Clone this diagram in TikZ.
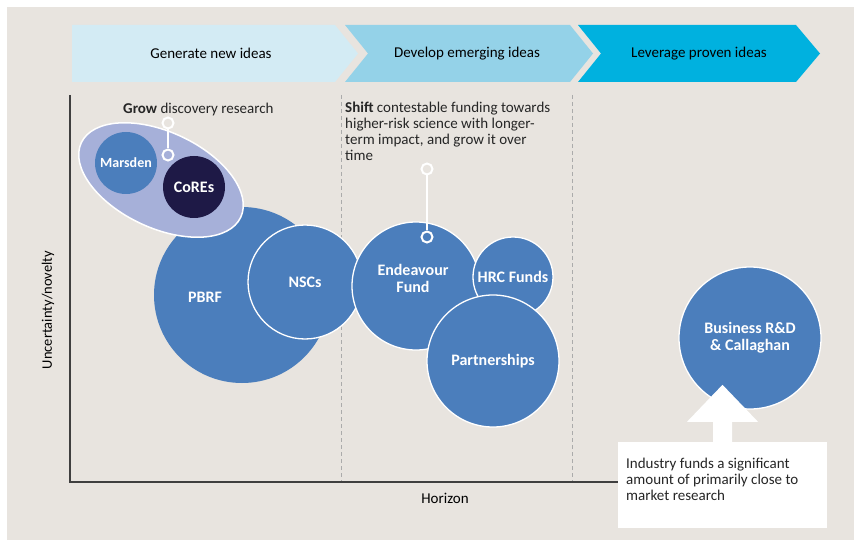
\documentclass[tikz,border=0pt]{standalone}
\usepackage{fontspec}
\setmainfont{Carlito}
\usepackage{xcolor}
\usepackage{tikz}
\usetikzlibrary{arrows.meta,positioning,shapes.geometric,calc}
\definecolor{panel}{HTML}{E8E4DF}
\definecolor{stageone}{HTML}{D3EBF4}
\definecolor{stagetwo}{HTML}{94D2E8}
\definecolor{stagethree}{HTML}{00B1DF}
\definecolor{fundblue}{HTML}{4B7EBC}
\definecolor{lavender}{HTML}{A6B0D9}
\definecolor{navy}{HTML}{1E1946}
\definecolor{axisgray}{HTML}{3F3F3F}
\definecolor{dashgray}{HTML}{ABABAB}
\definecolor{textgray}{HTML}{262626}
\tikzset{
  fund/.style={circle, draw=white, line width=1.3pt, fill=fundblue, text=white, align=center, inner sep=0pt, font=\fontsize{16}{17}\selectfont\bfseries},
  plainfund/.style={fund, draw=none},
  fundlabel/.style={text=white, align=center, inner sep=0pt, font=\fontsize{16}{17}\selectfont\bfseries},
  pinring/.style={circle, draw=white, line width=2pt, minimum size=11pt, inner sep=0pt},
  pinline/.style={draw=white, line width=2pt},
  stage/.style={text=black, font=\fontsize{15}{17}\selectfont},
  note/.style={text=textgray, align=left, anchor=north west, inner sep=0pt, font=\fontsize{15}{16}\selectfont},
  divider/.style={draw=dashgray, dash pattern=on 4pt off 3pt, line width=0.7pt},
  axisline/.style={draw=axisgray, line width=1.3pt},
  axislabel/.style={text=black, font=\fontsize{15}{16}\selectfont}
}

\begin{document}
\begin{tikzpicture}[x=1pt, y=-1pt]
  \useasboundingbox (0,0) rectangle (854,540);
  \fill[panel] (7,7) rectangle (854,540);

  % stages along the top
  \fill[stageone] (72,25) -- (335,25) -- (358,53.5) -- (335,82) -- (72,82) -- cycle;
  \fill[stagetwo] (345,25) -- (570,25) -- (593,53.5) -- (570,82) -- (345,82) -- (368,53.5) -- cycle;
  \fill[stagethree] (578,25) -- (796,25) -- (820,53.5) -- (796,82) -- (578,82) -- (601,53.5) -- cycle;
  \node[stage] (generate) at (211,53.5) {Generate new ideas};
  \node[stage] (develop) at (467,53.5) {Develop emerging ideas};
  \node[stage] (leverage) at (699,53.5) {Leverage proven ideas};

  \draw[divider] (341,95) -- (341,482);
  \draw[divider] (572,95) -- (572,482);

  \node[fill=white, minimum width=209pt, minimum height=86pt, inner sep=0pt] (industry) at (722.5,485) {};
  \node[note] (industrytext) at (626,458) {Industry funds a significant\\amount of primarily close to\\market research};

  \draw[axisline] (70,95) -- (70,482) -- (industry.west |- 0,482);
  \node[axislabel] (horizon) at (445,498) {Horizon};
  \node[axislabel, font=\fontsize{14.5}{16}\selectfont, rotate=90] (novelty) at (48,310) {Uncertainty/novelty};

  % discovery funds
  \node[plainfund, minimum size=176pt] (pbrf) at (242,295) {};
  \node[fundlabel] (pbrflabel) at ($(pbrf)+(-37,2)$) {PBRF};
  \node[ellipse, fill=lavender, draw=white, line width=1.5pt, rotate=-25, minimum width=176pt, minimum height=96pt] (discovery) at (161,180) {};
  \node[plainfund, minimum size=62pt, font=\fontsize{14}{16}\selectfont\bfseries] (marsden) at (126,163) {Marsden};
  \node[plainfund, fill=navy, minimum size=62pt] (cores) at (194,187) {CoREs};
  \node[fund, minimum size=114pt] (nsc) at (305,282) {NSCs};

  \node[note, anchor=base west] (grow) at (123,114) {\textbf{Grow} discovery research};
  \node[pinring] (growtop) at (168,123) {};
  \node[pinring] (growend) at (168,155) {};
  \draw[pinline] (growtop) -- (growend);

  % contestable funds
  \node[fund, minimum size=128pt] (endeavour) at (416,286) {};
  \node[fundlabel] (endeavourlabel) at ($(endeavour)+(-3,-8)$) {Endeavour\\Fund};
  \node[fund, minimum size=80pt] (hrc) at (513,277) {HRC Funds};
  \node[fund, minimum size=132pt] (partnerships) at (493,361) {Partnerships};

  \node[note] (shift) at (345,102) {\textbf{Shift} contestable funding towards\\higher-risk science with longer-\\term impact, and grow it over\\time};
  \node[pinring] (shifttop) at (427,169) {};
  \node[pinring] (shiftend) at (427,237) {};
  \draw[pinline] (shifttop) -- (shiftend);

  % industry funding
  \node[fund, minimum size=142pt] (business) at (750,338) {Business R\&D\\\& Callaghan};
  \fill[white] ($(industry.north)+(-9.5,0)$) -- ++(0,-20) -- ++(-26,0) -- ($(industry.north)+(0,-57)$)
    -- ($(industry.north)+(35.5,-20)$) -- ++(-26,0) -- ++(0,20) -- cycle;
\end{tikzpicture}
\end{document}
